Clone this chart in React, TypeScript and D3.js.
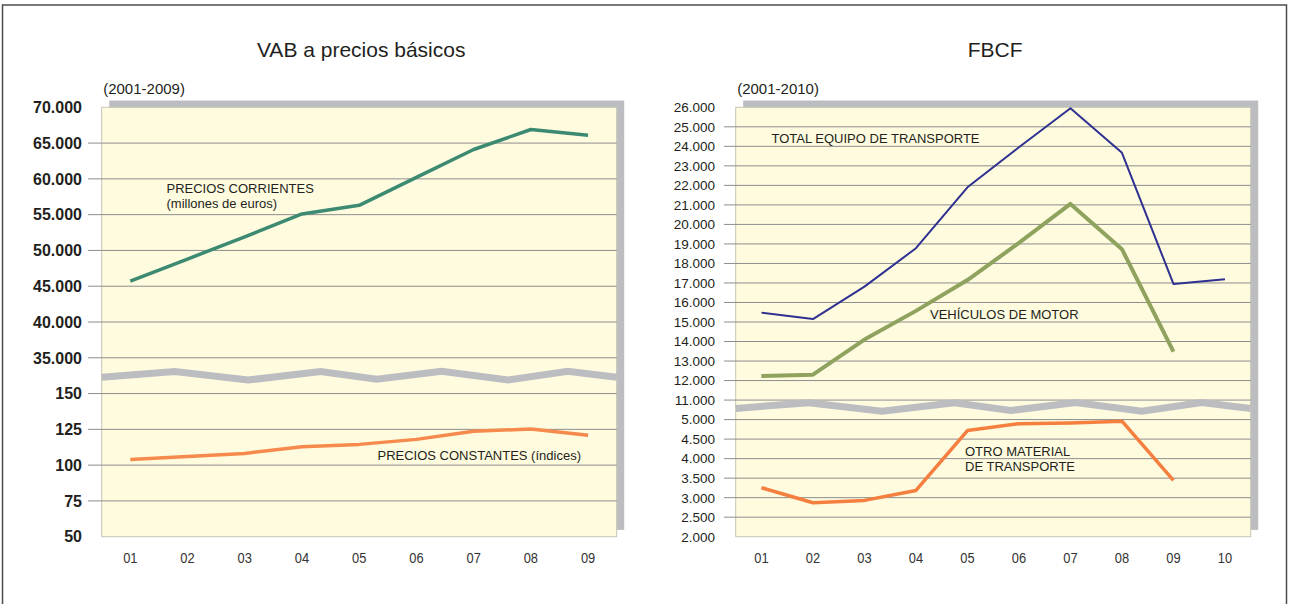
import React from "react";
import * as d3 from "d3";

// ---- data ----
const yearsVab = ["01", "02", "03", "04", "05", "06", "07", "08", "09"];
const preciosCorrientes = [45700, 48800, 51900, 55100, 56300, 60200, 64100, 66900, 66100];
const preciosConstantes = [104, 106, 108.2, 112.8, 114.5, 118, 123.6, 125.3, 120.8];
const vabUpperTicks = [70000, 65000, 60000, 55000, 50000, 45000, 40000, 35000];
const vabLowerTicks = [150, 125, 100, 75, 50];

const yearsFbcf = ["01", "02", "03", "04", "05", "06", "07", "08", "09", "10"];
const totalEquipo = [15480, 15150, 16810, 18780, 21900, 23950, 25950, 23670, 16950, 17190];
const vehiculosMotor = [12230, 12300, 14100, 15570, 17150, 19050, 21050, 18730, 13480, null];
const otroMaterial = [3255, 2870, 2930, 3185, 4720, 4895, 4915, 4960, 3445, null];
const fbcfUpperTicks = [26000, 25000, 24000, 23000, 22000, 21000, 20000, 19000, 18000, 17000, 16000, 15000, 14000, 13000, 12000, 11000];
const fbcfLowerTicks = [5000, 4500, 4000, 3500, 3000, 2500, 2000];

// zigzag "axis break" decoration (fraction of plot width, px offset from midline)
const breakShape: [number, number][] = [
  [0, 1.5], [0.142, -4.2], [0.284, 4.4], [0.425, -4.2], [0.534, 3.6],
  [0.66, -4.4], [0.789, 4.4], [0.905, -4.4], [1, 1.5],
];

const fmt = d3.formatLocale({ decimal: ",", thousands: ".", grouping: [3], currency: ["", ""] }).format(",");
const FONT = "'Liberation Sans', Arial, Helvetica, sans-serif";
const INK = "#231f20";

type Series = { values: (number | null)[]; part: "upper" | "lower"; color: string; width: number };
type Label = { lines: string[]; x: number; y: number };

type PanelCfg = {
  title: string;
  period: string;
  plot: { left: number; top: number; width: number; height: number };
  categories: string[];
  upperTicks: number[];
  lowerTicks: number[];
  tickBold: boolean;
  tickSize: number;
  tickLabelX: number;
  tickLineX: number;
  breakFrac: number;
  series: Series[];
  labels: Label[];
};

function Panel({ cfg }: { cfg: PanelCfg }) {
  const { left, top, width, height } = cfg.plot;
  const right = left + width;
  const bottom = top + height;
  const nTicks = cfg.upperTicks.length + cfg.lowerTicks.length;
  const step = height / (nTicks - 1);

  const yUpper = d3
    .scaleLinear()
    .domain([d3.min(cfg.upperTicks)!, d3.max(cfg.upperTicks)!])
    .range([top + (cfg.upperTicks.length - 1) * step, top]);
  const yLower = d3
    .scaleLinear()
    .domain([d3.min(cfg.lowerTicks)!, d3.max(cfg.lowerTicks)!])
    .range([bottom, bottom - (cfg.lowerTicks.length - 1) * step]);
  const x = d3.scalePoint<string>().domain(cfg.categories).range([left, right]).padding(0.5);

  const ticks = [
    ...cfg.upperTicks.map((t) => ({ t, y: yUpper(t) })),
    ...cfg.lowerTicks.map((t) => ({ t, y: yLower(t) })),
  ];

  const breakMid = yUpper(d3.min(cfg.upperTicks)!) + cfg.breakFrac * step;
  const breakPath = d3
    .line<[number, number]>()
    .x((d) => left + d[0] * width)
    .y((d) => breakMid + d[1])(breakShape);

  const titleX = left + width / 2 + 2;

  return (
    <g fontFamily={FONT}>
      <text x={titleX} y={56.5} textAnchor="middle" fontSize={21} fill={INK}>
        {cfg.title}
      </text>
      <text x={left + 1.5} y={94} fontSize={15} fill={INK}>
        {cfg.period}
      </text>

      {/* shadow + plot area */}
      <rect x={left + 7.5} y={top - 6.8} width={width} height={height} fill="#bcbdc1" />
      <rect x={left} y={top} width={width} height={height} fill="#fffbdf" stroke="#c6c5b4" strokeWidth={1} />

      {ticks.map((d, i) => (
        <g key={i}>
          {i > 0 && i < ticks.length - 1 && (
            <line x1={cfg.tickLineX} x2={right} y1={d.y} y2={d.y} stroke="#8d8d8d" strokeWidth={1} />
          )}
          <text
            x={cfg.tickLabelX}
            y={d.y}
            dy="0.36em"
            textAnchor="end"
            fontSize={cfg.tickSize}
            fontWeight={cfg.tickBold ? "bold" : "normal"}
            fill={INK}
          >
            {fmt(d.t)}
          </text>
        </g>
      ))}

      <path d={breakPath ?? ""} fill="none" stroke="#bcbdc1" strokeWidth={7} strokeLinejoin="miter" />

      {cfg.series.map((s, i) => {
        const y = s.part === "upper" ? yUpper : yLower;
        const pts = cfg.categories.map((c, j) => ({ c, v: s.values[j] }));
        const path = d3
          .line<{ c: string; v: number | null }>()
          .defined((d) => d.v != null)
          .x((d) => x(d.c)!)
          .y((d) => y(d.v as number))(pts);
        return (
          <path key={i} d={path ?? ""} fill="none" stroke={s.color} strokeWidth={s.width} strokeLinejoin="round" />
        );
      })}

      {cfg.labels.map((l, i) => (
        <text key={i} x={l.x} y={l.y} fontSize={13} fill={INK}>
          {l.lines.map((ln, k) => (
            <tspan key={k} x={l.x} dy={k === 0 ? 0 : 14.5}>
              {ln}
            </tspan>
          ))}
        </text>
      ))}

      {cfg.categories.map((c) => (
        <text
          key={c}
          transform={`translate(${x(c)},562.5) scale(0.86,1)`}
          textAnchor="middle"
          fontSize={15}
          fill="#333"
        >
          {c}
        </text>
      ))}
    </g>
  );
}

const vabCfg: PanelCfg = {
  title: "VAB a precios básicos",
  period: "(2001-2009)",
  plot: { left: 101.7, top: 107.3, width: 515, height: 429.4 },
  categories: yearsVab,
  upperTicks: vabUpperTicks,
  lowerTicks: vabLowerTicks,
  tickBold: true,
  tickSize: 16,
  tickLabelX: 82,
  tickLineX: 88,
  breakFrac: 0.5,
  series: [
    { values: preciosCorrientes, part: "upper", color: "#3b8a71", width: 3.5 },
    { values: preciosConstantes, part: "lower", color: "#f68a4d", width: 3.5 },
  ],
  labels: [
    { lines: ["PRECIOS CORRIENTES", "(millones de euros)"], x: 166.5, y: 193.3 },
    { lines: ["PRECIOS CONSTANTES (índices)"], x: 377.5, y: 460 },
  ],
};

const fbcfCfg: PanelCfg = {
  title: "FBCF",
  period: "(2001-2010)",
  plot: { left: 735.7, top: 107.3, width: 515, height: 429.4 },
  categories: yearsFbcf,
  upperTicks: fbcfUpperTicks,
  lowerTicks: fbcfLowerTicks,
  tickBold: false,
  tickSize: 13.5,
  tickLabelX: 715,
  tickLineX: 724,
  breakFrac: 0.35,
  series: [
    { values: totalEquipo, part: "upper", color: "#2e3190", width: 2 },
    { values: vehiculosMotor, part: "upper", color: "#8fa35f", width: 4 },
    { values: otroMaterial, part: "lower", color: "#f47f3f", width: 3.5 },
  ],
  labels: [
    { lines: ["TOTAL EQUIPO DE TRANSPORTE"], x: 771.5, y: 143.3 },
    { lines: ["VEHÍCULOS DE MOTOR"], x: 930, y: 319 },
    { lines: ["OTRO MATERIAL", "DE TRANSPORTE"], x: 965, y: 456 },
  ],
};

export default function App() {
  return (
    <svg
      width={1289}
      height={604}
      style={{ position: "absolute", left: 0, top: 0, background: "#fff" }}
    >
      <rect x={2.5} y={5} width={1284} height={700} fill="#fff" stroke="#4d4d4d" strokeWidth={1.5} />
      <Panel cfg={vabCfg} />
      <Panel cfg={fbcfCfg} />
    </svg>
  );
}
